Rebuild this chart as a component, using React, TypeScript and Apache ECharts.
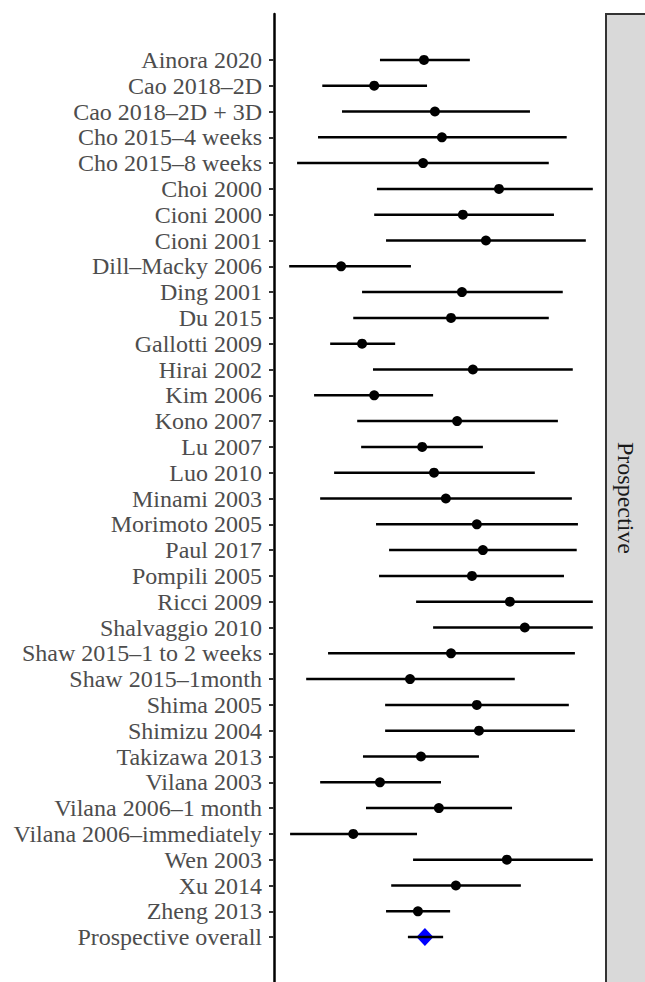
import React, { useEffect, useRef } from "react";
import * as echarts from "echarts";

const studies = [
  "Ainora 2020",
  "Cao 2018–2D",
  "Cao 2018–2D + 3D",
  "Cho 2015–4 weeks",
  "Cho 2015–8 weeks",
  "Choi 2000",
  "Cioni 2000",
  "Cioni 2001",
  "Dill–Macky 2006",
  "Ding 2001",
  "Du 2015",
  "Gallotti 2009",
  "Hirai 2002",
  "Kim 2006",
  "Kono 2007",
  "Lu 2007",
  "Luo 2010",
  "Minami 2003",
  "Morimoto 2005",
  "Paul 2017",
  "Pompili 2005",
  "Ricci 2009",
  "Shalvaggio 2010",
  "Shaw 2015–1 to 2 weeks",
  "Shaw 2015–1month",
  "Shima 2005",
  "Shimizu 2004",
  "Takizawa 2013",
  "Vilana 2003",
  "Vilana 2006–1 month",
  "Vilana 2006–immediately",
  "Wen 2003",
  "Xu 2014",
  "Zheng 2013",
];

const estimates = [
  0.444, 0.28, 0.48, 0.503, 0.441, 0.691, 0.572, 0.648, 0.171, 0.569, 0.533, 0.24,
  0.605, 0.28, 0.553, 0.438, 0.477, 0.516, 0.618, 0.638, 0.602, 0.727, 0.776, 0.533,
  0.398, 0.618, 0.625, 0.434, 0.299, 0.493, 0.211, 0.717, 0.549, 0.424,
];

const lowerCI = [
  0.299, 0.109, 0.174, 0.095, 0.026, 0.289, 0.28, 0.319, 0.0, 0.24, 0.211, 0.135,
  0.276, 0.082, 0.224, 0.237, 0.148, 0.102, 0.286, 0.329, 0.296, 0.418, 0.474, 0.128,
  0.056, 0.316, 0.316, 0.243, 0.102, 0.253, 0.003, 0.408, 0.336, 0.319,
];

const upperCI = [
  0.595, 0.454, 0.793, 0.914, 0.855, 1.0, 0.872, 0.977, 0.401, 0.901, 0.855, 0.349,
  0.934, 0.474, 0.885, 0.638, 0.809, 0.931, 0.951, 0.947, 0.905, 1.0, 1.0, 0.941,
  0.743, 0.921, 0.941, 0.625, 0.5, 0.734, 0.421, 1.0, 0.763, 0.53,
];

const overallLabel = "Prospective overall";
const overallEstimate = 0.447;
const overallLower = 0.391;
const overallUpper = 0.507;
const panelLabel = "Prospective";

const SERIF = "'Liberation Serif', 'Times New Roman', Times, serif";

export default function App() {
  const ref = useRef<HTMLDivElement>(null);

  useEffect(() => {
    const chart = echarts.init(ref.current!, null, { renderer: "svg" });
    const categories = [...studies, overallLabel];
    const lows = [...lowerCI, overallLower];
    const highs = [...upperCI, overallUpper];
    const intervalData = categories.map((_, i) => [i, lows[i], highs[i]]);

    chart.setOption({
      animation: false,
      grid: [
        { left: 274, top: 47, height: 903, width: 334 },
        { left: 274, top: 14, height: 975, width: 334 },
      ],
      xAxis: [
        { type: "value", gridIndex: 0, min: -0.05, max: 1.05, show: false },
        { type: "value", gridIndex: 1, min: 0, max: 1, show: false },
      ],
      yAxis: [
        {
          type: "category",
          gridIndex: 0,
          data: categories,
          inverse: true,
          boundaryGap: true,
          axisLine: { show: false, onZero: false },
          axisTick: {
            show: true,
            length: 5,
            alignWithLabel: true,
            lineStyle: { color: "#333333", width: 2 },
          },
          axisLabel: {
            color: "#4d4d4d",
            fontSize: 24,
            fontFamily: SERIF,
            margin: 12,
            interval: 0,
          },
          splitLine: { show: false },
        },
        {
          type: "value",
          gridIndex: 1,
          min: 0,
          max: 1,
          axisLine: { show: true, onZero: false, lineStyle: { color: "#000000", width: 2.5 } },
          axisTick: { show: false },
          axisLabel: { show: false },
          splitLine: { show: false },
        },
      ],
      series: [
        {
          type: "custom",
          xAxisIndex: 0,
          yAxisIndex: 0,
          z: 3,
          data: intervalData,
          encode: { y: 0, x: [1, 2] },
          renderItem: (_params: any, api: any) => {
            const y = api.value(0);
            const a = api.coord([api.value(1), y]);
            const b = api.coord([api.value(2), y]);
            return {
              type: "line",
              shape: { x1: a[0], y1: a[1], x2: b[0], y2: b[1] },
              style: { stroke: "#000000", lineWidth: 2.5 },
            };
          },
        },
        {
          type: "scatter",
          xAxisIndex: 0,
          yAxisIndex: 0,
          z: 4,
          data: studies.map((s, i) => [estimates[i], s]),
          symbol: "circle",
          symbolSize: 10,
          itemStyle: { color: "#000000", opacity: 1 },
        },
        {
          type: "scatter",
          xAxisIndex: 0,
          yAxisIndex: 0,
          z: 2,
          data: [[overallEstimate, overallLabel]],
          symbol: "diamond",
          symbolSize: [17, 18],
          itemStyle: { color: "#0000ff", opacity: 1 },
        },
      ],
      graphic: [
        {
          type: "rect",
          shape: { x: 606, y: 14, width: 60, height: 990 },
          style: { fill: "#d9d9d9", stroke: "#333333", lineWidth: 2 },
          z: 10,
        },
        {
          type: "text",
          x: 626,
          y: 498,
          rotation: -Math.PI / 2,
          z: 11,
          style: {
            text: panelLabel,
            fill: "#1a1a1a",
            fontSize: 24,
            fontFamily: SERIF,
            align: "center",
            verticalAlign: "middle",
          },
        },
      ],
    });

    return () => chart.dispose();
  }, []);

  return (
    <div
      ref={ref}
      style={{ position: "fixed", left: 0, top: 0, width: 645, height: 982, background: "#ffffff" }}
    />
  );
}
